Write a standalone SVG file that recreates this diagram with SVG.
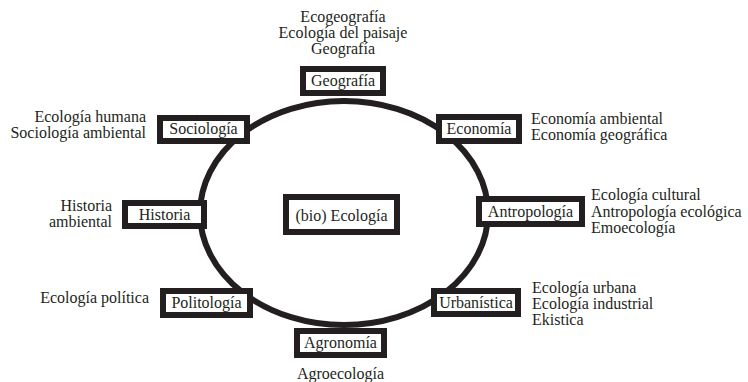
<svg xmlns="http://www.w3.org/2000/svg" width="748" height="382" viewBox="0 0 748 382">
<style>
text{font-family:"Liberation Serif","Times New Roman",serif;font-size:16px;fill:#231f20}
.box{fill:#fff;stroke:#231f20;stroke-width:6}
.m{text-anchor:middle}
.e{text-anchor:end}
.ring{fill:none;stroke:#231f20;stroke-width:6}
</style>
<rect width="748" height="382" fill="#fff"/>
<g id="connectors">
<ellipse class="ring" cx="344" cy="213" rx="144" ry="112"/>
</g>
<g id="bioecologia"><rect class="box" x="286" y="197" width="111" height="35"/><text class="m" x="341.5" y="221">(bio) Ecología</text></g>
<g id="geografia"><rect class="box" x="303" y="69" width="80" height="24"/><text class="m" x="343" y="86">Geografía</text>
<text class="m" x="343" y="22">Ecogeografía</text><text class="m" x="343" y="38">Ecología del paisaje</text><text class="m" x="343" y="54">Geografía</text></g>
<g id="sociologia"><rect class="box" x="160" y="118" width="87" height="23"/><text class="m" x="203.5" y="134">Sociología</text>
<text class="e" x="146" y="122">Ecología humana</text><text class="e" x="146" y="138">Sociología ambiental</text></g>
<g id="economia"><rect class="box" x="439" y="117" width="80" height="24"/><text class="m" x="479" y="134">Economía</text>
<text x="531" y="124">Economía ambiental</text><text x="531" y="140">Economía geográfica</text></g>
<g id="historia"><rect class="box" x="125" y="203" width="79" height="23"/><text class="m" x="164.5" y="220">Historia</text>
<text class="e" x="112" y="211">Historia</text><text class="e" x="112" y="227">ambiental</text></g>
<g id="antropologia"><rect class="box" x="479" y="199" width="103" height="25"/><text class="m" x="530.5" y="217">Antropología</text>
<text x="591" y="200">Ecología cultural</text><text x="591" y="216.5">Antropología ecológica</text><text x="591" y="233">Emoecología</text></g>
<g id="politologia"><rect class="box" x="163" y="291" width="87" height="24"/><text class="m" x="206.5" y="308">Politología</text>
<text class="e" x="149" y="303">Ecología política</text></g>
<g id="urbanistica"><rect class="box" x="434" y="291" width="84" height="23"/><text class="m" x="476" y="308">Urbanística</text>
<text x="532" y="293">Ecología urbana</text><text x="532" y="309">Ecología industrial</text><text x="532" y="325">Ekistica</text></g>
<g id="agronomia"><rect class="box" x="297" y="331" width="87" height="24"/><text class="m" x="340.5" y="348">Agronomía</text>
<text class="m" x="340.5" y="379">Agroecología</text></g>
</svg>
